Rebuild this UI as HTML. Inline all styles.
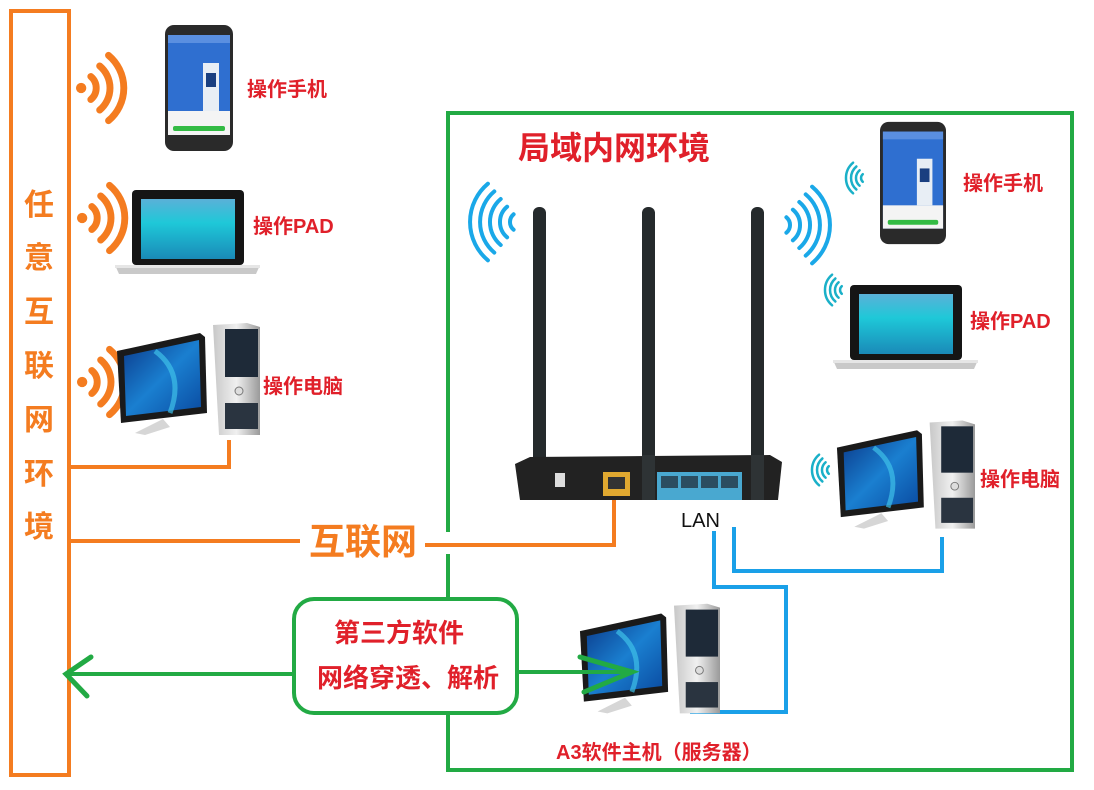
<!DOCTYPE html>
<html><head><meta charset="utf-8"><style>
html,body{margin:0;padding:0;background:#fff;}
svg{display:block}
text{font-family:"Liberation Sans","Noto Sans CJK SC",sans-serif;font-weight:bold}
</style></head><body>
<svg width="1094" height="790" viewBox="0 0 1094 790" xmlns="http://www.w3.org/2000/svg">
<defs>
  <linearGradient id="scr" x1="0" y1="0" x2="1" y2="1"><stop offset="0" stop-color="#0b3a8a"/><stop offset="0.5" stop-color="#1a7fd0"/><stop offset="1" stop-color="#0a4aa0"/></linearGradient>
  <linearGradient id="pad" x1="0" y1="0" x2="0" y2="1"><stop offset="0" stop-color="#5ab0d8"/><stop offset="0.4" stop-color="#1ec8d8"/><stop offset="1" stop-color="#1a8ab8"/></linearGradient>
  <linearGradient id="silver" x1="0" y1="0" x2="1" y2="0"><stop offset="0" stop-color="#c8c8c8"/><stop offset="0.5" stop-color="#f0f0f0"/><stop offset="1" stop-color="#9a9a9a"/></linearGradient>
  <symbol id="phone" viewBox="0 0 68 126">
    <rect x="0" y="0" width="68" height="126" rx="9" fill="#2a2a2a"/>
    <rect x="3" y="10" width="62" height="100" fill="#2f6fd0"/>
    <rect x="3" y="10" width="62" height="8" fill="#5a8fe0"/>
    <rect x="38" y="38" width="16" height="48" fill="#e8eef5"/>
    <rect x="41" y="48" width="10" height="14" fill="#1a3f80"/>
    <rect x="3" y="86" width="62" height="24" fill="#f4f4f4"/>
    <rect x="8" y="101" width="52" height="5" rx="2" fill="#33bb44"/>
  </symbol>
  <symbol id="laptop" viewBox="0 0 145 84">
    <rect x="17" y="0" width="112" height="75" rx="4" fill="#151515"/>
    <rect x="26" y="9" width="94" height="60" fill="url(#pad)"/>
    <path d="M0,75 H145 L141,84 H4 Z" fill="#c9c9c9"/>
    <rect x="0" y="75" width="145" height="3" fill="#e6e6e6"/>
  </symbol>
  <symbol id="desk" viewBox="0 0 145 118">
    <path d="M98,2 L132,0 L145,4 L145,112 L104,112 Z" fill="url(#silver)"/>
    <rect x="110" y="6" width="33" height="48" fill="#1e2a38"/>
    <rect x="110" y="80" width="33" height="26" fill="#2a3440"/>
    <circle cx="124" cy="68" r="4" fill="#ddd" stroke="#777"/>
    <path d="M2,28 L85,10 L90,14 L92,90 L6,100 Z" fill="#1a1a1a"/>
    <path d="M9,33 L84,17 L86,84 L11,93 Z" fill="url(#scr)"/>
    <path d="M40,28 Q70,50 55,90" stroke="#3fc0e8" stroke-width="5" fill="none" opacity="0.7"/>
    <path d="M40,100 L48,96 L55,104 L30,112 L20,110 Z" fill="#d6d6d6"/>
  </symbol>
  <symbol id="wo" viewBox="-6 -40 50 80" overflow="visible">
    <circle cx="0" cy="0" r="4.5" fill="#f47c20"/>
    <g fill="none" stroke="#f47c20" stroke-width="6" stroke-linecap="round">
      <path d="M8.4,-10 A13,13 0 0 1 8.4,10"/>
      <path d="M16.1,-19.2 A25,25 0 0 1 16.1,19.2"/>
      <path d="M23.8,-28.4 A37,37 0 0 1 23.8,28.4"/>
    </g>
  </symbol>
  <symbol id="wb" viewBox="0 -60 60 120" overflow="visible">
    <g fill="none" stroke="#1aa8e8" stroke-width="4" stroke-linecap="round">
      <path d="M6.4,-7.7 A10,10 0 0 1 6.4,7.7"/>
      <path d="M12.9,-15.3 A20,20 0 0 1 12.9,15.3"/>
      <path d="M19.3,-23 A30,30 0 0 1 19.3,23"/>
      <path d="M25.7,-30.6 A40,40 0 0 1 25.7,30.6"/>
      <path d="M32.1,-38.3 A50,50 0 0 1 32.1,38.3"/>
    </g>
  </symbol>
  <symbol id="ws" viewBox="0 -20 20 40" overflow="visible">
    <g fill="none" stroke="#1ab0c8" stroke-width="2.5" stroke-linecap="round">
      <path d="M3.2,-3.8 A5,5 0 0 1 3.2,3.8"/>
      <path d="M6.4,-7.7 A10,10 0 0 1 6.4,7.7"/>
      <path d="M9.6,-11.5 A15,15 0 0 1 9.6,11.5"/>
      <path d="M12.9,-15.3 A20,20 0 0 1 12.9,15.3"/>
    </g>
  </symbol>
</defs>

<rect x="11" y="11" width="58" height="764" fill="none" stroke="#f47c20" stroke-width="4"/>
<g fill="#f47c20" font-size="30" text-anchor="middle">
  <text x="39" y="215">任</text><text x="39" y="268">意</text><text x="39" y="322">互</text>
  <text x="39" y="376">联</text><text x="39" y="430">网</text><text x="39" y="484">环</text><text x="39" y="537">境</text>
</g>

<use href="#wo" x="74" y="42" width="58" height="92"/>
<use href="#phone" x="165" y="25" width="68" height="126"/>
<text x="247" y="96" font-size="20" fill="#e0202a">操作手机</text>
<use href="#wo" x="75" y="172" width="58" height="92"/>
<use href="#laptop" x="115" y="190" width="145" height="84"/>
<text x="253" y="233" font-size="20" fill="#e0202a">操作PAD</text>
<use href="#wo" x="75" y="336" width="58" height="92"/>
<use href="#desk" x="115" y="323" width="145" height="118"/>
<text x="263" y="393" font-size="20" fill="#e0202a">操作电脑</text>

<polyline points="69,467 229,467 229,440" fill="none" stroke="#f47c20" stroke-width="4"/>
<line x1="69" y1="541" x2="300" y2="541" stroke="#f47c20" stroke-width="4"/>
<text x="309" y="554" font-size="36" fill="#f47c20">互联网</text>

<rect x="448" y="113" width="624" height="657" fill="none" stroke="#22aa44" stroke-width="4"/>
<rect x="440" y="532" width="20" height="22" fill="#fff"/>
<polyline points="425,545 614,545 614,485" fill="none" stroke="#f47c20" stroke-width="4"/>
<text x="518" y="159" font-size="32" fill="#e0202a">局域内网环境</text>

<rect x="533" y="207" width="13" height="290" rx="6" fill="#252a2c"/>
<rect x="642" y="207" width="13" height="290" rx="6" fill="#252a2c"/>
<rect x="751" y="207" width="13" height="290" rx="6" fill="#252a2c"/>
<path d="M515,464 L530,457 L770,455 L782,462 L778,500 L520,500 Z" fill="#222"/>
<rect x="642" y="455" width="13" height="45" fill="#2e3335"/>
<rect x="751" y="455" width="13" height="45" fill="#2e3335"/>
<rect x="555" y="473" width="10" height="14" fill="#ddd"/>
<rect x="603" y="472" width="27" height="24" fill="#e0a830"/>
<rect x="608" y="477" width="17" height="12" fill="#333"/>
<rect x="657" y="472" width="85" height="28" fill="#49a8d0"/>
<g fill="#2b4d60"><rect x="661" y="476" width="17" height="12"/><rect x="681" y="476" width="17" height="12"/><rect x="701" y="476" width="17" height="12"/><rect x="721" y="476" width="17" height="12"/></g>
<text x="681" y="527" font-size="20" fill="#111" style="font-weight:normal">LAN</text>

<use href="#wb" x="780" y="165" width="60" height="120"/>
<g transform="translate(520,222) scale(-1,1)"><use href="#wb" x="0" y="-60" width="60" height="120"/></g>

<g transform="translate(866,178) scale(-1,1)"><use href="#ws" x="0" y="-20" width="20" height="40"/></g>
<use href="#phone" x="880" y="120" width="66" height="126"/>
<text x="963" y="190" font-size="20" fill="#e0202a">操作手机</text>
<g transform="translate(845,290) scale(-1,1)"><use href="#ws" x="0" y="-20" width="20" height="40"/></g>
<use href="#laptop" x="833" y="285" width="145" height="84"/>
<text x="970" y="328" font-size="20" fill="#e0202a">操作PAD</text>
<g transform="translate(832,470) scale(-1,1)"><use href="#ws" x="0" y="-20" width="20" height="40"/></g>
<use href="#desk" x="835" y="420" width="140" height="115"/>
<text x="980" y="486" font-size="20" fill="#e0202a">操作电脑</text>

<polyline points="714,531 714,587 786,587 786,712 690,712" fill="none" stroke="#1aa0e8" stroke-width="4"/>
<polyline points="734,527 734,571 942,571 942,537" fill="none" stroke="#1aa0e8" stroke-width="4"/>

<use href="#desk" x="578" y="603" width="142" height="117"/>
<text x="556" y="759" font-size="20" fill="#e0202a">A3软件主机（服务器）</text>

<rect x="294" y="599" width="223" height="114" rx="20" fill="#fff" stroke="#22aa44" stroke-width="4"/>
<text x="334" y="642" font-size="26" fill="#e0202a">第三方软件</text>
<text x="317" y="687" font-size="26" fill="#e0202a">网络穿透、解析</text>
<line x1="294" y1="674" x2="66" y2="674" stroke="#22aa44" stroke-width="4"/>
<polyline points="91,657 66,674 87,696" fill="none" stroke="#22aa44" stroke-width="5" stroke-linecap="round"/>
<line x1="517" y1="672" x2="632" y2="672" stroke="#22aa44" stroke-width="4"/>
<polyline points="580,657 632,672 584,692" fill="none" stroke="#22aa44" stroke-width="5" stroke-linecap="round"/>
</svg>
</body></html>
